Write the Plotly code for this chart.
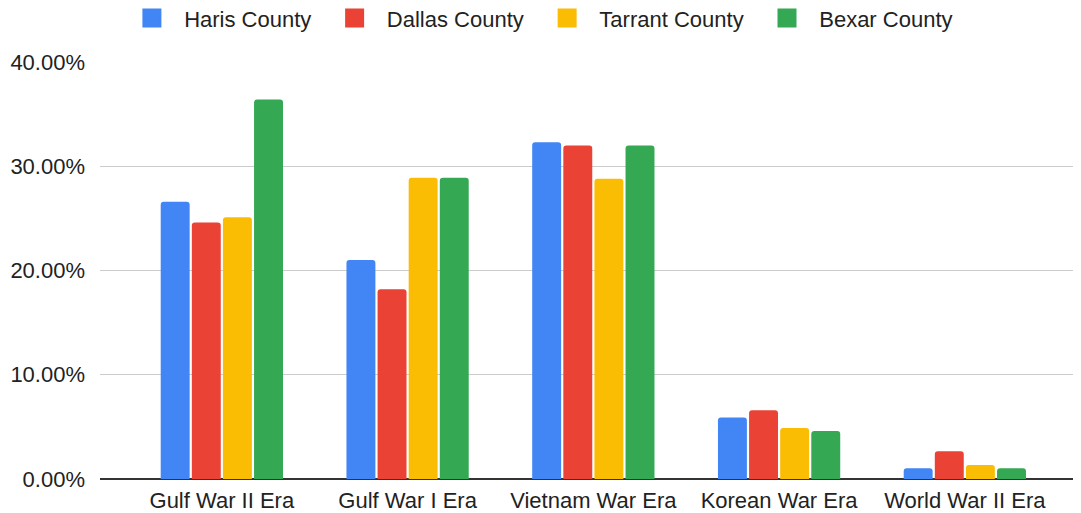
import plotly.graph_objects as go

categories = ["Gulf War II Era", "Gulf War I Era", "Vietnam War Era", "Korean War Era", "World War II Era"]
haris = [0.266, 0.210, 0.323, 0.059, 0.0103]
dallas = [0.246, 0.182, 0.320, 0.066, 0.0266]
tarrant = [0.251, 0.289, 0.288, 0.049, 0.0134]
bexar = [0.364, 0.289, 0.320, 0.046, 0.0103]

series = [
    ("Haris County", haris, "#4285F4"),
    ("Dallas County", dallas, "#EA4335"),
    ("Tarrant County", tarrant, "#FBBC04"),
    ("Bexar County", bexar, "#34A853"),
]

NB = "\u00a0"

fig = go.Figure()
for name, vals, color in series:
    fig.add_trace(go.Bar(name=name, x=list(range(len(categories))), y=vals,
                         marker=dict(color=color, line=dict(width=0)),
                         showlegend=False,
                         hovertemplate="%{y:.2%}<extra>" + name + "</extra>"))
# legend entries with larger square swatches
for name, vals, color in series:
    fig.add_trace(go.Scatter(name=NB * 2 + name + NB * 3, x=[None], y=[None], mode="markers",
                             marker=dict(symbol="square", size=16, color=color,
                                         line=dict(color=color, width=3)),
                             showlegend=True, hoverinfo="skip"))

fig.update_layout(
    width=1081, height=513,
    margin=dict(l=92, r=9, t=54, b=42),
    paper_bgcolor="white", plot_bgcolor="white",
    font=dict(family="Liberation Sans, Arial, sans-serif", size=22, color="#222222"),
    barmode="group", bargap=0.33, bargroupgap=0.07, barcornerradius=3,
    showlegend=True,
    legend=dict(orientation="h", xref="container", yref="container",
                x=0.505, xanchor="center", y=0.98, yanchor="middle",
                font=dict(size=22, color="#222222"), itemwidth=30,
                traceorder="normal"),
    xaxis=dict(tickmode="array", tickvals=list(range(len(categories))), ticktext=categories,
               range=[-0.656, 4.62], showgrid=False, showline=False, ticks="",
               ticklabelstandoff=6, automargin=False,
               tickfont=dict(size=22, color="#222222")),
    yaxis=dict(range=[0, 0.40], dtick=0.10, tickformat=".2%", showgrid=True,
               gridcolor="#cccccc", gridwidth=1, zeroline=True, zerolinecolor="#333333",
               zerolinewidth=1.5, showline=False, ticks="", ticklen=0,
               ticklabelstandoff=14, automargin=False,
               tickfont=dict(size=22, color="#222222")),
)

fig.write_html("out.html")
